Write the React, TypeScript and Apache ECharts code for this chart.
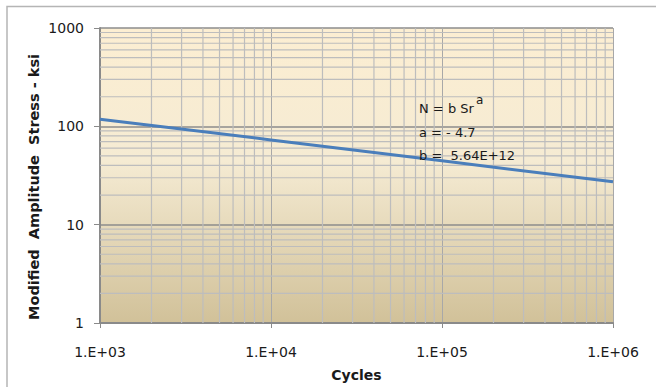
import React, { useEffect, useRef } from "react";
import * as echarts from "echarts";

const cycles = [1000, 10000, 100000, 1000000];
const stress = [118, 72.8, 44.6, 27.3];
const xTickLabels = ["1.E+03", "1.E+04", "1.E+05", "1.E+06"];
const yTickLabels = ["1", "10", "100", "1000"];
const annotation = ["N = b Sr", "a", "a = - 4.7", "b =  5.64E+12"];
const xName = "Cycles";
const yName = "Modified  Amplitude  Stress - ksi";

const FONT = "'DejaVu Sans', sans-serif";

function minorValues(loExp: number, hiExp: number) {
  const out: number[] = [];
  for (let e = loExp; e < hiExp; e++) {
    for (let m = 2; m <= 9; m++) out.push(m * Math.pow(10, e));
  }
  return out;
}

export default function App() {
  const ref = useRef<HTMLDivElement>(null);
  useEffect(() => {
    document.body.style.margin = "0";
    const chart = echarts.init(ref.current!, undefined, { renderer: "svg" });
    const minorX = minorValues(3, 6);
    const minorY = minorValues(0, 3);
    const gridData = [
      ...minorX.map((v) => [v, 10, 0]),
      ...minorY.map((v) => [10000, v, 1]),
    ];
    const expIndex = (v: number, base: number) => Math.round(Math.log10(v)) - base;
    const txt = (x: number, y: number, text: string, size: number, extra: any = {}) => ({
      type: "text",
      z: 100,
      x,
      y,
      style: { text, align: "left", verticalAlign: "middle", fontFamily: FONT, fontSize: size, fill: "#1a1a1a", ...extra },
    });
    chart.setOption({
      animation: false,
      grid: {
        left: 100,
        right: 43,
        top: 28,
        bottom: 61,
        show: true,
        borderWidth: 0,
        backgroundColor: new echarts.graphic.LinearGradient(0, 0, 0, 1, [
          { offset: 0, color: "#FCEED2" },
          { offset: 0.45, color: "#F5EBD3" },
          { offset: 1, color: "#D1C199" },
        ]),
      },
      xAxis: {
        type: "log",
        logBase: 10,
        min: 1000,
        max: 1000000,
        name: xName,
        nameLocation: "middle",
        nameGap: 45,
        nameTextStyle: { fontFamily: FONT, fontWeight: "bold", fontSize: 14, color: "#1a1a1a" },
        axisLine: { show: true, lineStyle: { color: "#8a8a8a", width: 2 } },
        axisTick: { show: true, length: 5, lineStyle: { color: "#8a8a8a", width: 1 } },
        axisLabel: {
          margin: 22,
          fontFamily: FONT,
          fontSize: 14,
          color: "#1a1a1a",
          formatter: (v: number) => xTickLabels[expIndex(v, 3)] ?? "",
        },
        splitLine: { show: true, lineStyle: { color: "#A8A8A8", width: 1 } },
      },
      yAxis: {
        type: "log",
        logBase: 10,
        min: 1,
        max: 1000,
        axisLine: { show: true, lineStyle: { color: "#8a8a8a", width: 2 } },
        axisTick: { show: true, length: 6, lineStyle: { color: "#8a8a8a", width: 1 } },
        axisLabel: {
          margin: 16,
          fontFamily: FONT,
          fontSize: 14,
          color: "#1a1a1a",
          formatter: (v: number) => yTickLabels[expIndex(v, 0)] ?? "",
        },
        splitLine: { show: true, lineStyle: { color: "#8C8C8C", width: 1.5 } },
      },
      series: [
        {
          type: "custom",
          z: 1,
          silent: true,
          encode: { x: 0, y: 1 },
          data: gridData,
          renderItem: (params: any, api: any) => {
            const cs = params.coordSys;
            const kind = api.value(2);
            if (kind === 0) {
              const p = api.coord([api.value(0), 10]);
              return {
                type: "line",
                shape: { x1: p[0], y1: cs.y, x2: p[0], y2: cs.y + cs.height },
                style: { stroke: "#BDBDBD", lineWidth: 1.2 },
              };
            }
            const p = api.coord([10000, api.value(1)]);
            return {
              type: "line",
              shape: { x1: cs.x, y1: p[1], x2: cs.x + cs.width, y2: p[1] },
              style: { stroke: "#BDBDBD", lineWidth: 1.2 },
            };
          },
        },
        {
          type: "line",
          z: 3,
          data: cycles.map((c, i) => [c, stress[i]]),
          showSymbol: false,
          symbol: "none",
          lineStyle: { color: "#4A7EBB", width: 3 },
        },
      ],
      graphic: [
        {
          type: "rect",
          z: 100,
          silent: true,
          shape: { x: 7, y: 6.5, width: 720, height: 420 },
          style: { fill: "none", stroke: "#B5B5B5", lineWidth: 1.5 },
        },
        {
          type: "text",
          z: 100,
          x: 34,
          y: 187,
          rotation: Math.PI / 2,
          style: {
            text: yName,
            align: "center",
            verticalAlign: "middle",
            fontFamily: FONT,
            fontWeight: "bold",
            fontSize: 14.5,
            fill: "#1a1a1a",
          },
        },
        txt(419, 108, annotation[0], 13),
        txt(476, 100, annotation[1], 12),
        txt(419, 132, annotation[2], 13),
        txt(419, 155, annotation[3], 13),
      ],
    });
    return () => chart.dispose();
  }, []);
  return <div ref={ref} style={{ width: 656, height: 387 }} />;
}
